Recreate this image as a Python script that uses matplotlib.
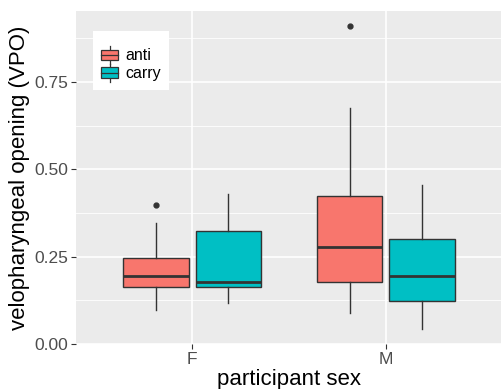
import matplotlib
matplotlib.use("Agg")
import matplotlib.pyplot as plt
from matplotlib.patches import Rectangle
from matplotlib.lines import Line2D
from matplotlib.legend_handler import HandlerBase

plt.rcParams['font.family'] = ['Liberation Sans', 'DejaVu Sans']

# data
groups = ['F', 'M']
conds = ['anti', 'carry']
colors = {'anti': '#F8766D', 'carry': '#00BFC4'}

anti_whislo = [0.097, 0.088]
anti_q1 = [0.163, 0.177]
anti_med = [0.196, 0.278]
anti_q3 = [0.246, 0.424]
anti_whishi = [0.346, 0.675]
anti_fliers = [[0.397], [0.910]]

carry_whislo = [0.118, 0.043]
carry_q1 = [0.162, 0.123]
carry_med = [0.177, 0.196]
carry_q3 = [0.324, 0.300]
carry_whishi = [0.430, 0.455]
carry_fliers = [[], []]

yticks = [0.0, 0.25, 0.50, 0.75]
ytick_labels = ['0.00', '0.25', '0.50', '0.75']

stats = {
    'anti': (anti_whislo, anti_q1, anti_med, anti_q3, anti_whishi, anti_fliers),
    'carry': (carry_whislo, carry_q1, carry_med, carry_q3, carry_whishi, carry_fliers),
}

edge = '#333333'
fig = plt.figure(figsize=(5.02, 3.89), dpi=100)
ax = fig.add_axes([0.1514, 0.1157, 0.8486, 0.856])
ax.set_facecolor('#EBEBEB')

# grid
for v in [0.125, 0.375, 0.625, 0.875]:
    ax.axhline(v, color='white', lw=0.6, zorder=0)
for v in yticks:
    ax.axhline(v, color='white', lw=1.2, zorder=0)
for x in [1, 2]:
    ax.axvline(x, color='white', lw=1.2, zorder=0)

offsets = {'anti': -0.1875, 'carry': 0.1875}
for c in conds:
    wl, q1, md, q3, wh, fl = stats[c]
    bstats = []
    for i in range(len(groups)):
        bstats.append(dict(whislo=wl[i], q1=q1[i], med=md[i], q3=q3[i],
                           whishi=wh[i], fliers=fl[i]))
    pos = [i + 1 + offsets[c] for i in range(len(groups))]
    ax.bxp(bstats, positions=pos, widths=0.3375, patch_artist=True,
           showcaps=False,
           boxprops=dict(facecolor=colors[c], edgecolor=edge, linewidth=1.0),
           medianprops=dict(color=edge, linewidth=2.0),
           whiskerprops=dict(color=edge, linewidth=1.0),
           flierprops=dict(marker='o', markerfacecolor=edge, markeredgecolor=edge,
                           markersize=3.5),
           zorder=2)

ax.set_xlim(0.4, 2.6)
ax.set_ylim(0, 0.953)
ax.set_xticks([1, 2])
ax.set_xticklabels(groups)
ax.set_yticks(yticks)
ax.set_yticklabels(ytick_labels)
ax.tick_params(axis='both', colors=edge, length=3.5, width=0.8,
               labelsize=12.5, labelcolor='#4D4D4D', pad=2)
for s in ax.spines.values():
    s.set_visible(False)

ax.set_xlabel('participant sex', fontsize=16, labelpad=2)
ax.set_ylabel('velopharyngeal opening (VPO)', fontsize=16, labelpad=3)


class BoxKey(HandlerBase):
    # ggplot style boxplot key: box, middle line, whiskers
    def create_artists(self, legend, orig_handle, xdescent, ydescent,
                       width, height, fontsize, trans):
        x0, y0 = -xdescent, -ydescent
        cx = x0 + width / 2
        lo = y0 + height * 0.2
        hi = y0 + height * 0.8
        r = Rectangle((x0, lo), width, hi - lo,
                      facecolor=orig_handle.get_facecolor(), edgecolor=edge,
                      lw=0.9, transform=trans)
        m = Line2D([x0, x0 + width], [y0 + height / 2] * 2, color=edge, lw=0.9,
                   transform=trans)
        w1 = Line2D([cx, cx], [hi, y0 + height], color=edge, lw=0.9,
                    transform=trans)
        w2 = Line2D([cx, cx], [y0, lo], color=edge, lw=0.9,
                    transform=trans)
        return [w1, w2, r, m]


handles = [Rectangle((0, 0), 1, 1, facecolor=colors[c]) for c in conds]
leg = ax.legend(handles, conds, loc='upper left', bbox_to_anchor=(0.04, 0.94),
                fontsize=11.5, frameon=True, fancybox=False, framealpha=1,
                edgecolor='white', handler_map={Rectangle: BoxKey()},
                handlelength=1.07, handleheight=1.35, labelspacing=0.0,
                handletextpad=0.45, borderpad=0.5, borderaxespad=0,
                title=' ', title_fontsize=5)
leg.get_frame().set_linewidth(0)

fig.savefig('out.png', dpi=100)
